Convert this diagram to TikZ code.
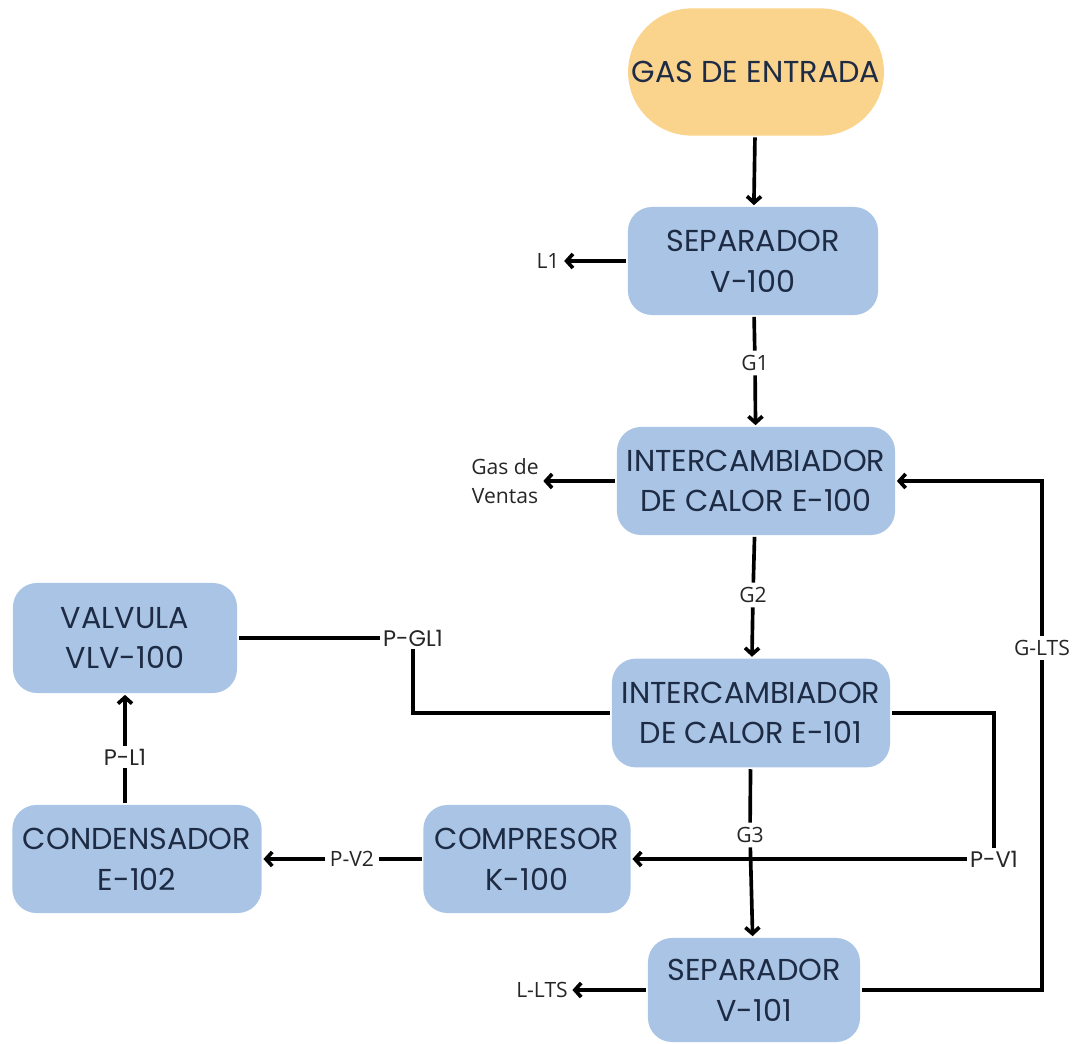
\documentclass[tikz,border=0pt]{standalone}
\usepackage{fontspec}
\usepackage{tikz}
\usepackage{xcolor}
\setmainfont{Poppins}
\newfontfamily\etiqfont{Open Sans}
\usetikzlibrary{arrows.meta,shapes.misc}
\definecolor{Azul}{HTML}{A9C4E4}
\definecolor{Naranja}{HTML}{FAD38D}
\definecolor{Tinta}{HTML}{1E2B45}
\tikzset{
Caja/.style={
 rectangle,
 rounded corners=0.6cm,
 fill=Azul,
 text=Tinta,
 align=center,
 font=\fontsize{21.5}{29}\selectfont,
 inner sep=0pt
 },
Entrada/.style={
 rounded rectangle,
 fill=Naranja,
 text=Tinta,
 font=\fontsize{21.5}{29}\selectfont,
 minimum width=6.63cm,
 minimum height=3.18cm
 },
Etiqueta/.style={
 text=black!85,
 align=center,
 inner sep=2pt,
 font=\etiqfont\fontsize{15}{21}\selectfont
 },
EtiquetaP/.style={
 text=black!85,
 inner sep=1pt,
 font=\fontsize{16}{20}\selectfont
 },
Flecha/.style={
 draw=black,
 ->,
 >={Straight Barb[length=4.5pt,width=10pt]}
 }
}
\begin{document}
\begin{tikzpicture}[x=0.025cm,y=-0.025cm,line width=2.6pt]
\useasboundingbox (0,0) rectangle (1079,1044);
\node[Entrada] (entrada) at (756,72) {GAS DE ENTRADA};
\node[Caja,minimum width=6.25cm,minimum height=2.7cm] (v100) at (753,261) {SEPARADOR\\V-100};
\node[Caja,minimum width=6.95cm,minimum height=2.7cm] (e100) at (756,481) {INTERCAMBIADOR\\DE CALOR E-100};
\node[Caja,minimum width=6.95cm,minimum height=2.72cm] (e101) at (751,713) {INTERCAMBIADOR\\DE CALOR E-101};
\node[Caja,minimum width=5.18cm,minimum height=2.7cm] (k100) at (527,859) {COMPRESOR\\K-100};
\node[Caja,minimum width=6.23cm,minimum height=2.7cm] (e102) at (137,859) {CONDENSADOR\\E-102};
\node[Caja,minimum width=5.6cm,minimum height=2.75cm] (vlv) at (125,638) {VALVULA\\VLV-100};
\node[Caja,minimum width=5.3cm,minimum height=2.6cm] (v101) at (754,990) {SEPARADOR\\V-101};
\node[Etiqueta] (l1) at (548,261) {L1};
\node[Etiqueta] (g1) at (755,363) {G1};
\node[Etiqueta] (gv) at (505,481) {Gas de\\Ventas};
\node[Etiqueta] (g2) at (753,595) {G2};
\node[Etiqueta] (g3) at (750,835) {G3};
\node[Etiqueta,fill=white] (glts) at (1042,648) {G-LTS};
\node[Etiqueta] (llts) at (542,990) {L-LTS};
\node[Etiqueta] (pv2) at (352,859) {P-V2};
\node[EtiquetaP] (pv1) at (994,859) {P-V1};
\node[EtiquetaP] (pgl1) at (413,638) {P-GL1};
\node[EtiquetaP] (pl1) at (125,757) {P-L1};
\draw[Flecha] (entrada) -- (v100);
\draw[Flecha] (v100.west) -- (l1.east);
\draw (v100) -- (g1);
\draw[Flecha] (g1) -- (e100);
\draw[Flecha] (e100.west) -- (gv.east);
\draw (e100) -- (g2);
\draw[Flecha] (g2) -- (e101);
\draw (e101.east) -| (pv1.north);
\draw[Flecha] (pv1.west) -- (k100.east);
\draw (e101) -- (g3);
\draw[Flecha] (g3) -- (v101);
\draw[Flecha] (v101.west) -- (llts.east);
\draw (v101.east) -| (glts.south);
\draw[Flecha] (glts.north) |- (e100.east);
\draw (k100.west) -- (pv2.east);
\draw[Flecha] (pv2.west) -- (e102.east);
\draw (pl1 |- e102.north) -- (pl1.south);
\draw[Flecha] (pl1.north) -- (pl1 |- vlv.south);
\draw (vlv.east) -- (pgl1.west);
\draw (pgl1.south) |- (e101.west);
\end{tikzpicture}
\end{document}
